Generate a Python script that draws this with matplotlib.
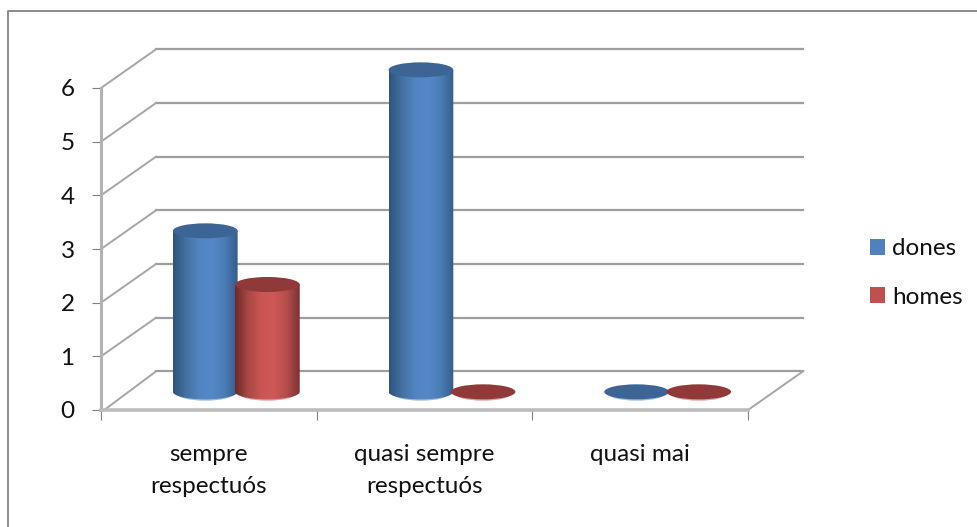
import numpy as np
from matplotlib import pyplot as plt
from matplotlib.colors import LinearSegmentedColormap
from matplotlib.lines import Line2D
from matplotlib.patches import Ellipse, Patch, Polygon

categories = ["sempre\nrespectuós", "quasi sempre\nrespectuós", "quasi mai"]
series_names = ["dones", "homes"]
dones = [3, 6, 0]
homes = [2, 0, 0]
y_ticks = [0, 1, 2, 3, 4, 5, 6]

plt.rcParams['font.family'] = ['Lato', 'DejaVu Sans']

GRID = '#9e9e9e'
TEXT = '#111111'

# wall offset and bar settings, in data units
DEPTH_X = 0.255
DEPTH_Y = 0.72
BAR_W = 0.30
BAR_STEP = 0.144
ELL_H = 0.28

fig = plt.figure(figsize=(9.77, 5.27), dpi=100, facecolor='white')
# outer frame, only top and left show in the picture
fig.add_artist(Line2D([8/977, 8/977, 1], [0, 1-11/527, 1-11/527], transform=fig.transFigure,
                      color='#8c8c8c', linewidth=1.4))

ax = fig.add_axes([101/977, 1-410/527, 647/977, 322/527])
ax.set_xlim(0, 3)
ax.set_ylim(0, 6)
ax.set_facecolor('none')
ax.spines['top'].set_visible(False)
ax.spines['right'].set_visible(False)
ax.spines['left'].set_color('#b2b2b2')
ax.spines['left'].set_linewidth(2.2)
ax.spines['bottom'].set_color('#bcbcbc')
ax.spines['bottom'].set_linewidth(2.6)

ax.set_yticks(y_ticks)
ax.tick_params(axis='y', length=6.5, width=0.8, color='#808080', pad=12.5, labelsize=17.5, labelcolor=TEXT)
ax.set_xticks([0, 1, 2, 3])
ax.set_xticklabels([])
ax.tick_params(axis='x', which='major', length=7, width=0.8, color='#808080')
ax.set_xticks([0.5, 1.5, 2.5], minor=True)
ax.set_xticklabels(categories, minor=True, fontsize=17.5, color=TEXT, linespacing=1.67)
ax.tick_params(axis='x', which='minor', length=0, pad=24.5)

# back wall and side lines
for v in y_ticks:
    ax.plot([DEPTH_X, 3+DEPTH_X], [v+DEPTH_Y, v+DEPTH_Y], color=GRID, lw=1.6, clip_on=False, zorder=1)
    ax.plot([0.015 if v == 0 else 0, DEPTH_X], [v, v+DEPTH_Y], color='#a6a6a6', lw=1.4, clip_on=False, zorder=1)
ax.plot([3, 3+DEPTH_X], [0, DEPTH_Y], color='#a6a6a6', lw=1.4, clip_on=False, zorder=1)


def cylinder(cx, value, colors, top_color, rim_color, z):
    left = cx - BAR_W/2
    right = cx + BAR_W/2
    base = DEPTH_Y*0.47
    top = base + value
    # light rim under the base
    ax.add_patch(Ellipse((cx, base-0.025), BAR_W*0.9, ELL_H, facecolor=rim_color, edgecolor='none',
                         clip_on=False, zorder=z))
    if value > 0:
        t = np.linspace(np.pi, 2*np.pi, 40)
        xs = cx + BAR_W/2*np.cos(t)
        ys = base + ELL_H/2*np.sin(t)
        pts = np.column_stack([np.r_[xs, right, left], np.r_[ys, top, top]])
        body = Polygon(pts, closed=True, facecolor='none', edgecolor='none', transform=ax.transData)
        ax.add_patch(body)
        cmap = LinearSegmentedColormap.from_list('c', colors)
        im = ax.imshow(np.linspace(0, 1, 128).reshape(1, -1), extent=(left, right, base-ELL_H, top),
                       aspect='auto', cmap=cmap, zorder=z+0.1, interpolation='bilinear')
        im.set_clip_path(body)
        im.set_clip_box(fig.bbox)
    ax.add_patch(Ellipse((cx, top), BAR_W, ELL_H, facecolor=top_color, edgecolor='none',
                         clip_on=False, zorder=z+0.2))


blue_body = ['#2f5481', '#44719f', '#5284c2', '#5588c8', '#4b7db5', '#365c8a']
red_body = ['#6b2a29', '#a84846', '#cb5654', '#cd5856', '#b54e4c', '#7c3332']

for i in range(3):
    c = i + 0.5 + DEPTH_X/2
    cylinder(c-BAR_STEP, dones[i], blue_body, '#3c6596', '#9dbbe2', 3+i)
    cylinder(c+BAR_STEP, homes[i], red_body, '#8f3a38', '#e0a09e', 3.5+i)

ax.set_xlim(0, 3)
ax.set_ylim(0, 6)

handles = [Patch(facecolor='#4f81bd', label=series_names[0]),
           Patch(facecolor='#c0504d', label=series_names[1])]
fig.legend(handles=handles, loc='center left', bbox_to_anchor=(865/977, 1-273/527), frameon=False,
           fontsize=17.5, labelcolor=TEXT, handlelength=0.62, handleheight=0.62, handletextpad=0.3,
           labelspacing=1.12, borderpad=0.2, borderaxespad=0)

fig.savefig('out.png', dpi=100)
